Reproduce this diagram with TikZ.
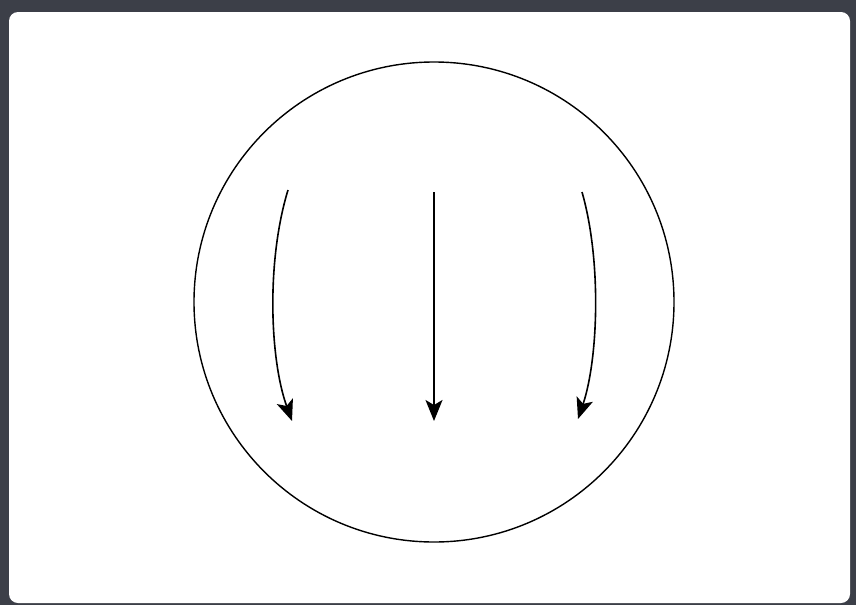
\documentclass[tikz,border=0pt]{standalone}
\usetikzlibrary{arrows.meta}
\begin{document}
\begin{tikzpicture}[x=1pt,y=-1pt,
  flow/.style={line width=1.6pt,-{Stealth[length=21pt,width=17pt,inset=5pt]}}]
\definecolor{frame}{HTML}{3C3F48}
\fill[frame] (0,0) rectangle (856,605);
\useasboundingbox (0,0) rectangle (856,605);
\fill[white, rounded corners=9pt] (9,12) rectangle (850,603);
\node[draw, circle, line width=1.4pt, minimum size=480pt, inner sep=0pt] (c) at (434,302) {};
\coordinate (l1) at (288,190); \coordinate (l2) at (292,421);
\coordinate (m1) at (434,192); \coordinate (m2) at (434,421);
\coordinate (r1) at (582,192); \coordinate (r2) at (578,419);
\draw[flow] (l1) .. controls (266,262) and (270,360) .. (l2);
\draw[flow] (m1) -- (m2);
\draw[flow] (r1) .. controls (602,262) and (598,360) .. (r2);
\end{tikzpicture}
\end{document}
